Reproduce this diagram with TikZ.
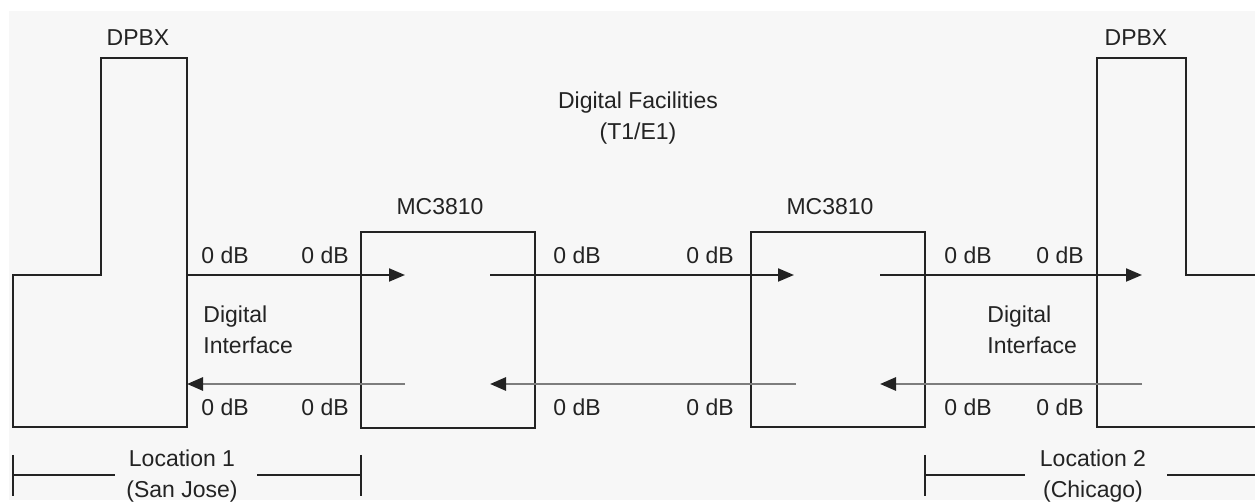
\documentclass[tikz,border=0pt]{standalone}
\usepackage{fontspec}
\setmainfont{Liberation Sans}
\usetikzlibrary{arrows.meta}
\definecolor{paper}{RGB}{247,247,247}
\definecolor{ink}{RGB}{35,35,35}
\definecolor{retgray}{RGB}{125,125,125}

\tikzset{
  outline/.style={ink,line width=1pt},
  sig/.style={ink,line width=1pt,-{Triangle[length=8pt,width=6.5pt]}},
  ret/.style={retgray,line width=1.4pt,-{Triangle[length=8pt,width=6.5pt,color=ink]}},
  lbl/.style={font=\fontsize{11.5}{15.5}\selectfont,text=ink,inner sep=0pt}
}

\begin{document}
\begin{tikzpicture}[x=0.5pt,y=-0.5pt, every node/.style={lbl}]
    \useasboundingbox (0,0) rectangle (1255,502);
    \fill[paper] (9,11) rectangle (1255,500);
    % PBX at each end
    \draw[outline] (13,275) -- (101,275) -- (101,58) -- (187,58) -- (187,427) -- (13,427) -- cycle;
    \draw[outline] (1255,275) -- (1186,275) -- (1186,58) -- (1097,58) -- (1097,427) -- (1255,427);
    \node (pbxA) at (138,38) {DPBX};
    \node (pbxB) at (1136,38) {DPBX};
    % MC3810 boxes
    \draw[outline] (361,232) rectangle (535,428);
    \draw[outline] (751,232) rectangle (925,427);
    \node (mcA) at (440,207) {MC3810};
    \node (mcB) at (830,207) {MC3810};
    \node[align=center] (fac) at (638,118) {Digital Facilities\\(T1/E1)};
    % Signal paths
    \foreach \s/\e [count=\i] in {187/405, 490/794, 880/1142} {
        \coordinate (go\i) at (\s,275);
        \coordinate (to\i) at (\e,275);
        \draw[sig] (go\i) -- (to\i);
    }
    \foreach \s/\e [count=\i] in {405/187, 796/490, 1142/880} {
        \coordinate (bk\i) at (\s,384);
        \coordinate (in\i) at (\e,384);
        \draw[ret] (bk\i) -- (in\i);
    }
    % Levels
    \foreach \x [count=\i] in {225,325,577,710,968,1060} {
        \node (up\i) at (\x,255) {0 dB};
        \node (dn\i) at (\x,407) {0 dB};
    }
    \node[anchor=west,align=left] (ifA) at (203,330) {Digital\\Interface};
    \node[anchor=west,align=left] (ifB) at (987,330) {Digital\\Interface};
    % Locations
    \node[align=center] (locA) at (182,476) {Location 1\\(San Jose)};
    \node[align=center] (locB) at (1093,476) {Location 2\\(Chicago)};
    \draw[outline] (13,455) -- (13,496) (361,455) -- (361,496) (925,455) -- (925,496);
    \draw[outline] (13,475) -- (115,475) (257,475) -- (361,475);
    \draw[outline] (925,475) -- (1025,475) (1167,475) -- (1255,475);
\end{tikzpicture}
\end{document}
